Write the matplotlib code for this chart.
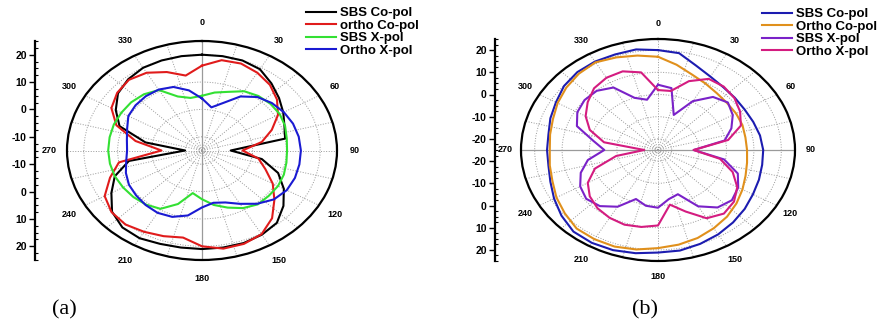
import numpy as np
import matplotlib
matplotlib.use("Agg")
import matplotlib.pyplot as plt
from matplotlib.ticker import FixedLocator

plt.rcParams['font.family'] = ['Liberation Sans', 'DejaVu Sans']

# angles in degrees (0 at top, clockwise), 10 degree steps
angles = np.arange(0, 360, 10)
theta_labels = ['0', '30', '60', '90', '120', '150', '180', '210', '240', '270', '300', '330']

# (a) gain in dB
a_labels = ['SBS Co-pol', 'ortho Co-pol', 'SBS X-pol', 'Ortho X-pol']
a_sbs_co = [20, 20, 20, 19.3, 17, 14.8, 12.8, 11, 10, -6.5,
            3, 9, 13, 16.5, 19.5, 20.5, 21, 21, 21, 21,
            21.3, 22, 21.7, 19.8, 16, 12.5, 7, -10, 2, 11,
            14.5, 17.5, 19, 19.9, 20, 20]
a_ortho_co = [16, 18.5, 18.8, 17.8, 16.3, 14, 11, 7, 3, -3,
              2, 5, 9.2, 13, 17.3, 20.3, 21.3, 21.4, 20, 17.3,
              18.3, 19.3, 20.3, 20, 18.3, 14, 10, -3, 5, 12,
              16, 17.8, 18.7, 17.8, 15.5, 12.8]
a_sbs_x = [5, 6.5, 7.8, 10, 11, 11.5, 11.6, 11.2, 10.5, 10.2,
           10.4, 10.8, 11, 10.8, 10.7, 9.3, 7.2, 5.2, 2.8, 0.8,
           5.8, 9.6, 10.8, 11.5, 12, 12.5, 12.7, 12.8, 12.8, 12.8,
           12.6, 12.4, 11.8, 10.5, 6, 4.5]
a_ortho_x = [4, 1, 3.5, 7.8, 10.5, 12, 13, 13.7, 14.1, 14.3,
             14.3, 14.3, 14, 12.8, 10.4, 7.5, 5.2, 4.4, 5.8, 9.1,
             10.8, 11.3, 11, 10.5, 10, 9, 7.8, 7.2, 7.6, 8.6,
             10.2, 10.7, 10.9, 10.7, 9.7, 7.3]
a_colors = ['black', '#e01b1b', '#33e033', '#1a1ad2']

# (b) gain in dB
b_labels = ['SBS Co-pol', 'Ortho Co-pol', 'SBS X-pol', 'Ortho X-pol']
b_sbs_co = [20, 19.3, 15.5, 13.2, 12, 11.6, 11.5, 12, 12.8, 13.4,
            13.6, 14.2, 15, 16.3, 17.6, 18.9, 20, 21, 21.2, 22.2,
            23, 23.3, 23, 21, 18.8, 16.8, 15.6, 15.5, 15.6, 16.8,
            18, 19.8, 20.8, 21, 20.8, 21]
b_ortho_co = [17, 14, 11.2, 9.6, 8.4, 7.9, 7.9, 7.8, 7.4, 7.5,
              8, 9, 10.6, 12.4, 14.2, 15.7, 17.2, 18.3, 19.2, 20.5,
              21.3, 21.4, 21.2, 19.4, 17.8, 16, 15.1, 14.5, 15, 15.8,
              17.3, 18.7, 19.9, 20.6, 19.4, 18.2]
b_sbs_x = [4.4, 3.3, -8.2, 0.4, 6.2, 8.3, 6.5, 3.5, -0.3, -12,
           -0.5, 6, 8.8, 10.2, 8.8, 4.3, -3.8, -2.5, 1, 0.5,
           -1.5, 4.5, 8, 9.2, 7.8, 5, 1, -5.4, -1, 6.5,
           9, 10, 9.8, 7.5, 0, -2]
b_ortho_x = [2, 2, 8, 12, 12.3, 11.4, 9.6, 7.2, 1, -12,
             -2, 4, 8.4, 11.2, 12.4, 10.5, 4.5, 0, 9, 10.2,
             10.8, 10.3, 9.3, 7.5, 4.6, -0.5, -9.5, -20, -5, 1.5,
             5.5, 8.5, 11.3, 12.6, 12.7, 10.5]
b_colors = ['#1c1cb0', '#e0901c', '#7a22c8', '#d41c80']

W, H = 877, 327
fig = plt.figure(figsize=(W / 100, H / 100), dpi=100)


def closed(vals):
    th = np.deg2rad(np.append(angles, 360))
    return th, np.append(vals, vals[0])


def panel(box, rmin, rmax, rings, solid, series, colors, labels,
          axis_x, ticks, leg_xy, pad):
    x0, y0, x1, y1 = box
    rect = [x0 / W, 1 - y1 / H, (x1 - x0) / W, (y1 - y0) / H]
    ax = fig.add_axes(rect, projection='polar')
    ax.set_theta_zero_location('N')
    ax.set_theta_direction(-1)
    ax.set_aspect('auto')
    ax.set_ylim(rmin, rmax)
    ax.set_thetagrids(range(0, 360, 30), theta_labels,
                      fontsize=6.5, fontweight='bold')
    ax.xaxis.set_minor_locator(FixedLocator(np.deg2rad(np.arange(0, 360, 15))))
    ax.set_yticks(rings)
    ax.set_yticklabels([])
    ax.grid(True, which='both', color='#999999', linestyle=':', linewidth=0.7)
    ax.tick_params(axis='x', which='major', length=6, width=1, direction='inout', pad=pad)
    ax.tick_params(axis='x', which='minor', length=3, width=0.8, direction='in')
    ax.spines['polar'].set_linewidth(1.6)
    for ang in solid:
        ax.plot(np.deg2rad([ang, ang]), [rmin, rmax], color='#9a9a9a', lw=0.9)
    for vals, c, lab in zip(series, colors, labels):
        th, r = closed(vals)
        ax.plot(th, r, color=c, lw=1.5, label=lab)
    ax.legend(loc='upper left', bbox_to_anchor=(leg_xy[0] / W, 1 - leg_xy[1] / H),
              bbox_transform=fig.transFigure, frameon=False,
              prop={'size': 9.5, 'weight': 'bold'}, handlelength=2.3,
              handletextpad=0.3, labelspacing=0.02, borderpad=0, borderaxespad=0)

    # mirrored radial scale on the left
    span = rmax - rmin
    axr = fig.add_axes([axis_x / W, rect[1], 0.0001, rect[3]])
    axr.set_ylim(-span, span)
    axr.patch.set_visible(False)
    for s in ['top', 'right', 'bottom']:
        axr.spines[s].set_visible(False)
    axr.spines['left'].set_linewidth(1.6)
    axr.set_xticks([])
    pos = [v - rmin for v in ticks] + [-(v - rmin) for v in ticks]
    labs = [str(v) for v in ticks] * 2
    axr.set_yticks(pos)
    axr.set_yticklabels(labs, fontsize=7.5, fontweight='bold')
    axr.yaxis.set_minor_locator(FixedLocator(np.arange(-span, span + 0.1, 2.5)))
    axr.tick_params(axis='y', which='major', length=4, width=1, pad=2)
    axr.tick_params(axis='y', which='minor', length=2.5, width=0.8, direction='in')
    return ax


panel((67, 41, 337, 260), -15, 25, [-10, 0, 10, 20], [0, 180],
      [a_sbs_co, a_ortho_co, a_sbs_x, a_ortho_x], a_colors, a_labels,
      35, [20, 10, 0, -10], (306, 7), 3)

panel((521, 39, 795, 261), -25, 25, [-20, -10, 0, 10, 20], [90, 270],
      [b_sbs_co, b_ortho_co, b_sbs_x, b_ortho_x], b_colors, b_labels,
      495, [20, 10, 0, -10, -20], (762, 8), 1.5)

fig.text(64 / W, 1 - 310 / H, '(a)', family='Liberation Serif', fontsize=16,
         ha='center', va='center')
fig.text(645 / W, 1 - 310 / H, '(b)', family='Liberation Serif', fontsize=16,
         ha='center', va='center')

fig.savefig('out.png', dpi=100)
